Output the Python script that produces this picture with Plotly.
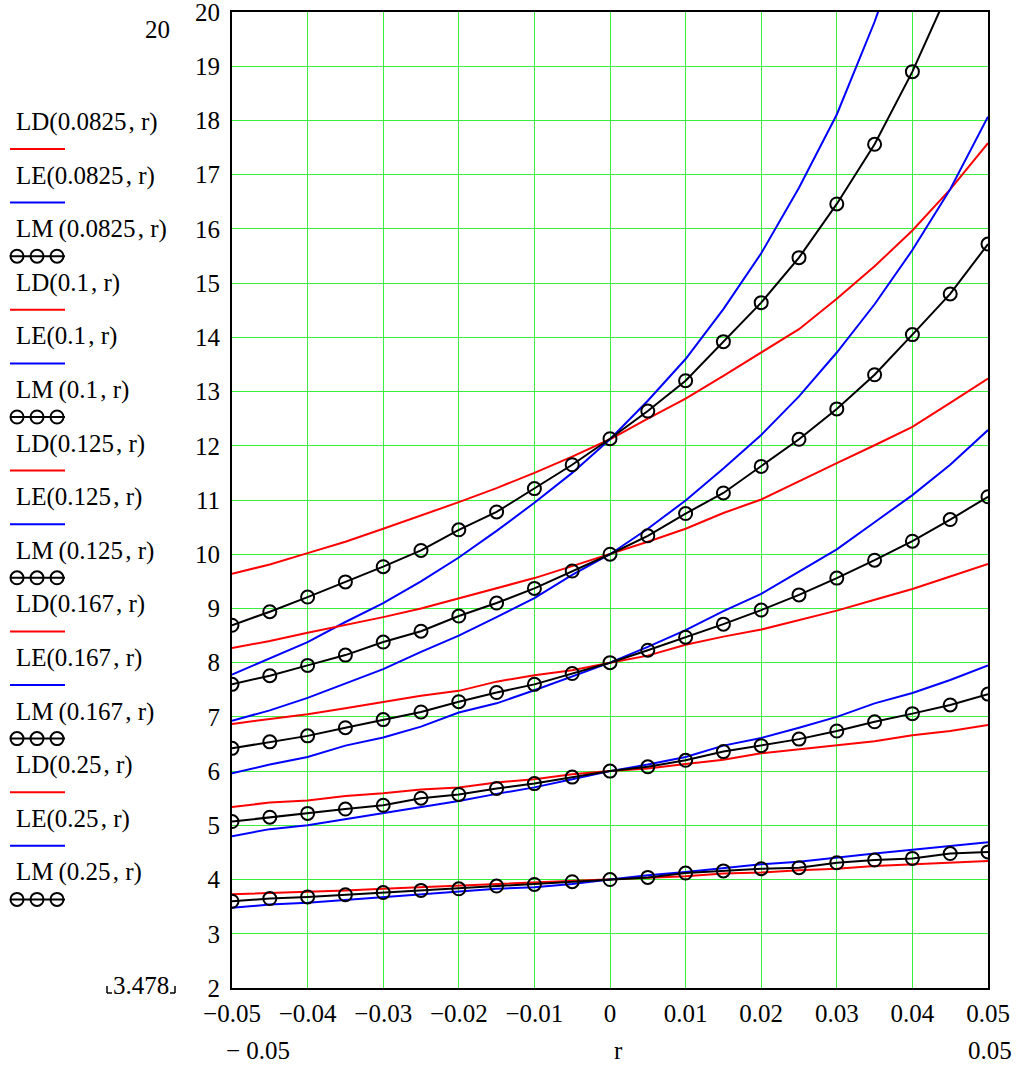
import plotly.graph_objects as go

# ---------------- data ----------------
r = [-0.05, -0.045, -0.04, -0.035, -0.03, -0.025, -0.02, -0.015, -0.01, -0.005, 0.0,
     0.005, 0.01, 0.015, 0.02, 0.025, 0.03, 0.035, 0.04, 0.045, 0.05]

LD_0825 = [9.64, 9.81, 10.02, 10.23, 10.47, 10.71, 10.96, 11.22, 11.50, 11.80, 12.12,
           12.50, 12.87, 13.29, 13.72, 14.15, 14.71, 15.31, 15.97, 16.73, 17.58]
LE_0825 = [7.78, 8.08, 8.38, 8.75, 9.10, 9.50, 9.94, 10.43, 10.95, 11.50, 12.12,
           12.83, 13.60, 14.52, 15.55, 16.76, 18.11, 19.82, 21.8, None, None]
LM_0825 = [8.69, 8.94, 9.21, 9.49, 9.77, 10.07, 10.45, 10.78, 11.21, 11.65, 12.13,
           12.64, 13.20, 13.92, 14.64, 15.47, 16.46, 17.56, 18.90, 20.45, None]

LD_1 = [8.27, 8.40, 8.55, 8.69, 8.84, 9.00, 9.19, 9.38, 9.56, 9.78, 10.0,
        10.23, 10.47, 10.76, 11.01, 11.35, 11.68, 12.01, 12.35, 12.79, 13.24]
LE_1 = [6.93, 7.12, 7.35, 7.61, 7.88, 8.20, 8.50, 8.84, 9.19, 9.62, 10.0,
        10.47, 10.99, 11.58, 12.20, 12.91, 13.72, 14.61, 15.61, 16.73, 18.07]
LM_1 = [7.60, 7.76, 7.95, 8.14, 8.38, 8.58, 8.86, 9.10, 9.37, 9.69, 10.0,
        10.34, 10.75, 11.13, 11.62, 12.12, 12.68, 13.31, 14.05, 14.80, 15.72]

LD_125 = [6.87, 6.96, 7.05, 7.16, 7.27, 7.39, 7.48, 7.65, 7.77, 7.86, 8.0,
          8.13, 8.33, 8.48, 8.61, 8.79, 8.96, 9.16, 9.36, 9.59, 9.82]
LE_125 = [5.96, 6.12, 6.26, 6.47, 6.62, 6.82, 7.08, 7.25, 7.49, 7.75, 8.0,
          8.29, 8.60, 8.95, 9.27, 9.68, 10.09, 10.59, 11.09, 11.65, 12.29]
LM_125 = [6.42, 6.54, 6.65, 6.80, 6.95, 7.09, 7.28, 7.45, 7.60, 7.80, 8.0,
          8.23, 8.47, 8.71, 8.97, 9.25, 9.56, 9.89, 10.24, 10.64, 11.06]

LD_167 = [5.34, 5.42, 5.46, 5.54, 5.59, 5.66, 5.70, 5.79, 5.85, 5.94, 6.0,
          6.05, 6.13, 6.21, 6.33, 6.40, 6.47, 6.55, 6.66, 6.74, 6.85]
LE_167 = [4.80, 4.93, 5.00, 5.11, 5.22, 5.34, 5.45, 5.58, 5.70, 5.85, 6.0,
          6.12, 6.26, 6.47, 6.61, 6.80, 7.00, 7.25, 7.44, 7.68, 7.95]
LM_167 = [5.07, 5.15, 5.22, 5.30, 5.37, 5.50, 5.57, 5.68, 5.77, 5.89, 6.0,
          6.08, 6.20, 6.36, 6.47, 6.59, 6.74, 6.91, 7.06, 7.22, 7.42]

LD_25 = [3.73, 3.75, 3.77, 3.80, 3.83, 3.86, 3.88, 3.91, 3.94, 3.97, 4.0,
         4.04, 4.06, 4.11, 4.13, 4.17, 4.20, 4.25, 4.28, 4.31, 4.34]
LE_25 = [3.478, 3.54, 3.57, 3.62, 3.68, 3.72, 3.77, 3.83, 3.86, 3.92, 4.0,
         4.08, 4.14, 4.21, 4.28, 4.33, 4.41, 4.48, 4.55, 4.62, 4.69]
LM_25 = [3.60, 3.65, 3.68, 3.72, 3.76, 3.80, 3.83, 3.88, 3.91, 3.96, 4.0,
         4.04, 4.12, 4.16, 4.20, 4.22, 4.31, 4.36, 4.39, 4.48, 4.51]

x_ticks = [-0.05, -0.04, -0.03, -0.02, -0.01, 0, 0.01, 0.02, 0.03, 0.04, 0.05]
x_tick_text = ["\u22120.05", "\u22120.04", "\u22120.03", "\u22120.02", "\u22120.01", "0",
               "0.01", "0.02", "0.03", "0.04", "0.05"]
y_ticks = list(range(2, 21))
y_tick_text = [str(v) for v in y_ticks]

series = [
    ("LD", "0.0825", LD_0825), ("LE", "0.0825", LE_0825), ("LM", "0.0825", LM_0825),
    ("LD", "0.1", LD_1), ("LE", "0.1", LE_1), ("LM", "0.1", LM_1),
    ("LD", "0.125", LD_125), ("LE", "0.125", LE_125), ("LM", "0.125", LM_125),
    ("LD", "0.167", LD_167), ("LE", "0.167", LE_167), ("LM", "0.167", LM_167),
    ("LD", "0.25", LD_25), ("LE", "0.25", LE_25), ("LM", "0.25", LM_25),
]

# ---------------- styling ----------------
FONT = "Liberation Serif"
RED = "#ff0000"
BLUE = "#0000ff"
BLACK = "#000000"
GRID = "#3cef3c"
W, H = 1017, 1065
ML, MR, MT, MB = 232, 29, 12, 77
PW, PH = W - ML - MR, H - MT - MB


def px(x):
    return (x - ML) / PW


def py(y):
    return (H - MB - y) / PH


fig = go.Figure()
for kind, rate, vals in series:
    if kind == "LD":
        fig.add_trace(go.Scatter(x=r, y=vals, mode="lines", line=dict(color=RED, width=2),
                                 name=f"LD({rate}, r)", connectgaps=False))
    elif kind == "LE":
        fig.add_trace(go.Scatter(x=r, y=vals, mode="lines", line=dict(color=BLUE, width=2),
                                 name=f"LE({rate}, r)", connectgaps=False))
    else:
        fig.add_trace(go.Scatter(x=r, y=vals, mode="lines+markers",
                                 line=dict(color=BLACK, width=2),
                                 marker=dict(symbol="circle-open", size=13,
                                             color=BLACK, line=dict(width=2, color=BLACK)),
                                 name=f"LM({rate}, r)", connectgaps=False))

annotations = []
shapes = []

# left-side legend (Mathcad style)
y0 = 122
step = 53.6
for i, (kind, rate, _) in enumerate(series):
    ty = y0 + i * step
    label = f"{kind}({rate}\u200a, r)" if kind != "LM" else f"LM\u2009({rate}\u200a, r)"
    annotations.append(dict(x=px(14), y=py(ty), xref="paper", yref="paper", text=label,
                            showarrow=False, xanchor="left", yanchor="middle",
                            font=dict(family=FONT, size=25, color=BLACK)))
    sy = ty + 27
    col = RED if kind == "LD" else BLUE if kind == "LE" else BLACK
    shapes.append(dict(type="line", xref="paper", yref="paper",
                       x0=px(10), x1=px(65), y0=py(sy), y1=py(sy),
                       line=dict(color=col, width=2)))
    if kind == "LM":
        for cx in (17, 37, 57):
            shapes.append(dict(type="circle", xref="paper", yref="paper",
                               x0=px(cx - 6.5), x1=px(cx + 6.5),
                               y0=py(sy - 6.5), y1=py(sy + 6.5),
                               line=dict(color=BLACK, width=2)))

# Mathcad range labels
top_extra = [
    dict(x=px(157), y=py(30), text="20", yanchor="middle"),
    dict(x=px(141), y=py(985), text="3.478", yanchor="middle"),
]
bottom_extra = [
    dict(x=px(258), y=py(1065), text="\u2212 0.05", yanchor="bottom"),
    dict(x=px(618), y=py(1065), text="r", yanchor="bottom"),
    dict(x=px(990), y=py(1065), text="0.05", yanchor="bottom"),
]
for a in top_extra + bottom_extra:
    a.update(xref="paper", yref="paper", showarrow=False, xanchor="center", borderpad=0,
             font=dict(family=FONT, size=25, color=BLACK))
annotations += top_extra + bottom_extra

# small corner brackets around 3.478
for (xa, xb) in ((107, 112), (175, 170)):
    shapes.append(dict(type="line", xref="paper", yref="paper", x0=px(xa), x1=px(xa),
                       y0=py(986), y1=py(993), line=dict(color=BLACK, width=1.5)))
    shapes.append(dict(type="line", xref="paper", yref="paper", x0=px(xa), x1=px(xb),
                       y0=py(993), y1=py(993), line=dict(color=BLACK, width=1.5)))

fig.update_layout(
    width=W, height=H,
    margin=dict(l=ML, r=MR, t=MT, b=MB, pad=0, autoexpand=False),
    paper_bgcolor="white", plot_bgcolor="white",
    showlegend=False,
    font=dict(family=FONT, size=25, color=BLACK),
    annotations=annotations,
    shapes=shapes,
    xaxis=dict(range=[-0.05, 0.05], tickmode="array", tickvals=x_ticks, ticktext=x_tick_text,
               showgrid=True, gridcolor=GRID, gridwidth=1, zeroline=False,
               showline=True, linecolor=BLACK, linewidth=2, mirror=True,
               ticks="", ticklabelstandoff=2, automargin=False, ticklabeloverflow="allow",
               tickfont=dict(family=FONT, size=25, color=BLACK)),
    yaxis=dict(range=[2, 20], tickmode="array", tickvals=y_ticks, ticktext=y_tick_text,
               showgrid=True, gridcolor=GRID, gridwidth=1, zeroline=False,
               showline=True, linecolor=BLACK, linewidth=2, mirror=True,
               ticks="", ticklabelstandoff=5, automargin=False, ticklabeloverflow="allow",
               tickfont=dict(family=FONT, size=25, color=BLACK)),
)

fig.write_html("out.html")
